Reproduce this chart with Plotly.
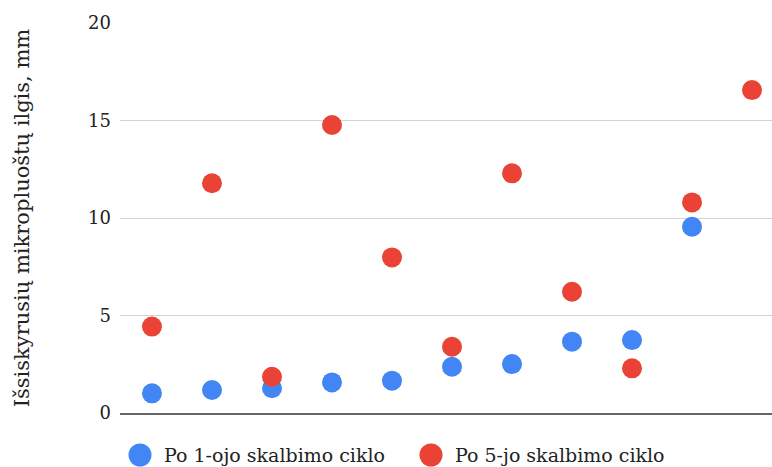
import plotly.graph_objects as go

# Sample numbers along the x axis (11 samples)
samples = list(range(1, 12))

# Length of released microfibres, mm
after_cycle_1 = [1.01, 1.18, 1.27, 1.57, 1.66, 2.37, 2.51, 3.66, 3.74, 9.55, None]
after_cycle_5 = [4.43, 11.78, 1.86, 14.77, 7.98, 3.40, 12.29, 6.22, 2.29, 10.80, 16.56]

series_names = ["Po 1-ojo skalbimo ciklo", "Po 5-jo skalbimo ciklo"]
series_colors = ["#4285F4", "#EA4335"]

y_ticks = [0, 5, 10, 15, 20]
y_title = "Išsiskyrusių mikropluoštų ilgis, mm"

FONT = "DejaVu Serif"
TEXT = "#222222"

# plot area geometry (pixels)
W, H = 772, 467
L, R, T, B = 120, 0, 23, 54
PW, PH = W - L - R, H - T - B

fig = go.Figure()
for name, vals, color in zip(series_names, [after_cycle_1, after_cycle_5], series_colors):
    fig.add_trace(go.Scatter(
        x=samples, y=vals, mode="markers", name=name, showlegend=False,
        marker=dict(size=20, color=color, line=dict(width=0)),
    ))

# legend row below the plot: large dot + label for each series
legend_y_px = 455
legend_items_px = [140, 431]   # dot centre x for each entry
shapes, annotations = [], []
for name, color, cx in zip(series_names, series_colors, legend_items_px):
    xp = (cx - L) / PW
    yp = (T + PH - legend_y_px) / PH
    shapes.append(dict(
        type="circle", xref="paper", yref="paper",
        xsizemode="pixel", ysizemode="pixel",
        xanchor=xp, yanchor=yp, x0=-11.5, x1=11.5, y0=-11.5, y1=11.5,
        fillcolor=color, line=dict(width=0),
    ))
    annotations.append(dict(
        text=name, xref="paper", yref="paper",
        x=(cx + 22 - L) / PW, y=yp, xanchor="left", yanchor="middle",
        showarrow=False, font=dict(family=FONT, size=19, color=TEXT),
    ))

fig.update_layout(
    width=W, height=H,
    margin=dict(l=L, r=R, t=T, b=B),
    paper_bgcolor="white", plot_bgcolor="white",
    font=dict(family=FONT, size=18, color=TEXT),
    showlegend=False,
    shapes=shapes, annotations=annotations,
    xaxis=dict(
        range=[0.467, 11.333], showgrid=False, zeroline=False,
        showticklabels=False, ticks="",
        showline=True, linecolor="#666666", linewidth=2,
    ),
    yaxis=dict(
        range=[0, 20], tickvals=y_ticks, ticktext=[str(v) for v in y_ticks],
        showgrid=True, gridcolor="#d3d3d3", gridwidth=1.3,
        zeroline=False, showline=False,
        ticks="", ticklabelstandoff=8,
        tickfont=dict(family=FONT, size=18, color=TEXT),
        title=dict(text=y_title, font=dict(family=FONT, size=21, color=TEXT), standoff=52),
        automargin=False,
    ),
)

fig.write_html("out.html")
